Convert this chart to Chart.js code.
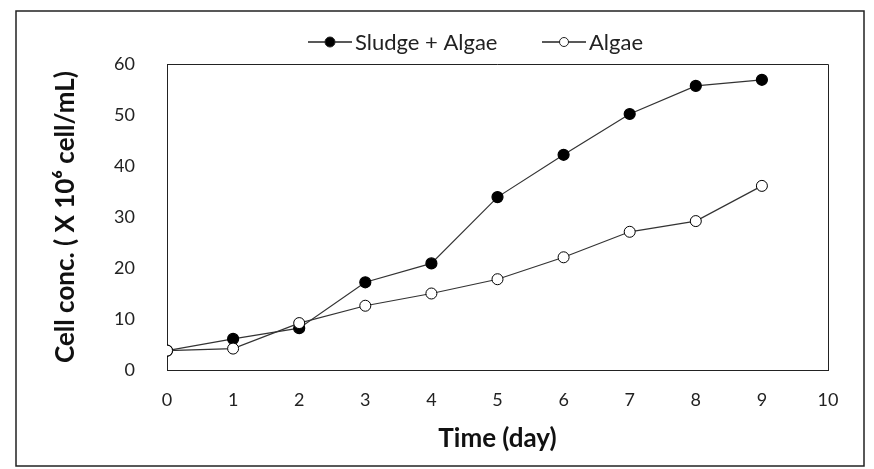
<!DOCTYPE html>
<html>
<head>
<meta charset="utf-8">
<script src="https://cdn.jsdelivr.net/npm/chart.js@4"></script>
<style>
  html, body { margin: 0; padding: 0; background: #fff; }
  #wrap { width: 874px; height: 469px; }
</style>
</head>
<body>
<div id="wrap"><canvas id="chart" width="874" height="469"></canvas></div>
<script>
// data
const days = [0, 1, 2, 3, 4, 5, 6, 7, 8, 9];
const sludgeAlgae = [3.8, 6.1, 8.2, 17.2, 20.9, 33.9, 42.2, 50.2, 55.7, 56.9];
const algae = [3.8, 4.2, 9.2, 12.6, 15.0, 17.8, 22.1, 27.1, 29.2, 36.1];
const xTicks = [0, 1, 2, 3, 4, 5, 6, 7, 8, 9, 10];
const yTicks = [0, 10, 20, 30, 40, 50, 60];

const FONT = 'Lato, "Open Sans", sans-serif';
const INK = '#222';

function toPoints(vals) {
    return vals.map((v, i) => ({ x: days[i], y: v }));
}

// legend drawn by hand: short line, marker, label
const legendItems = [
    { text: 'Sludge + Algae', x: 308, filled: true, r: 5 },
    { text: 'Algae', x: 542, filled: false, r: 4.5 }
];

const extras = {
    id: 'extras',
    afterDraw(chart) {
        const ctx = chart.ctx, a = chart.chartArea;
        ctx.save();
        // box round the plot area
        ctx.strokeStyle = '#222';
        ctx.lineWidth = 1;
        ctx.beginPath();
        ctx.moveTo(a.left, a.top + 0.5);
        ctx.lineTo(a.right + 0.5, a.top + 0.5);
        ctx.lineTo(a.right + 0.5, a.bottom);
        ctx.stroke();
        // frame round the whole chart
        ctx.lineWidth = 1.5;
        ctx.strokeStyle = '#222';
        ctx.strokeRect(16, 11, 848, 455);
        // legend
        const ly = 42;
        ctx.font = '22px ' + FONT;
        ctx.textBaseline = 'middle';
        ctx.textAlign = 'left';
        legendItems.forEach(it => {
            ctx.strokeStyle = '#222';
            ctx.lineWidth = 1.3;
            ctx.beginPath();
            ctx.moveTo(it.x, ly);
            ctx.lineTo(it.x + 44, ly);
            ctx.stroke();
            ctx.beginPath();
            ctx.arc(it.x + 22, ly, it.r, 0, Math.PI * 2);
            ctx.fillStyle = it.filled ? '#000' : '#fff';
            ctx.fill();
            ctx.lineWidth = 1;
            ctx.stroke();
            ctx.fillStyle = INK;
            ctx.fillText(it.text, it.x + 47, ly + 1);
        });
        ctx.restore();
    }
};

new Chart(document.getElementById('chart'), {
    type: 'line',
    data: {
        datasets: [{
            label: 'Sludge + Algae',
            data: toPoints(sludgeAlgae),
            borderColor: '#333',
            borderWidth: 1.2,
            pointRadius: 5.5,
            pointBackgroundColor: '#000',
            pointBorderColor: '#000',
            order: 2
        }, {
            label: 'Algae',
            data: toPoints(algae),
            borderColor: '#333',
            borderWidth: 1.2,
            pointRadius: 5.5,
            pointBackgroundColor: '#fff',
            pointBorderColor: '#000',
            pointBorderWidth: 1,
            order: 1
        }]
    },
    options: {
        responsive: false,
        animation: false,
        layout: { padding: { left: 46, right: 46, top: 64, bottom: 11 } },
        plugins: {
            tooltip: { enabled: false },
            legend: { display: false }
        },
        scales: {
            x: {
                type: 'linear',
                min: 0, max: 10,
                afterBuildTicks(scale) { scale.ticks = xTicks.map(v => ({ value: v })); },
                grid: { display: false, drawTicks: true, tickLength: 8, tickColor: '#222' },
                border: { color: '#222', width: 1 },
                ticks: { color: INK, font: { family: FONT, size: 18 }, padding: 11 },
                title: { display: true, text: 'Time (day)', color: '#111', font: { family: FONT, size: 26, weight: 'bold' } },
                afterFit(scale) { scale.height = 88; }
            },
            y: {
                min: 0, max: 60,
                afterBuildTicks(scale) { scale.ticks = yTicks.map(v => ({ value: v })); },
                grid: { display: false, drawTicks: true, tickLength: 7, tickColor: '#222' },
                border: { color: '#222', width: 1 },
                ticks: { color: INK, font: { family: FONT, size: 18 }, padding: 25 },
                title: { display: true, text: 'Cell conc. ( X 10\u2076 cell/mL)', color: '#111', font: { family: FONT, size: 26, weight: 'bold' } },
                afterFit(scale) { scale.width = 121; }
            }
        }
    },
    plugins: [extras]
});
</script>
</body>
</html>
